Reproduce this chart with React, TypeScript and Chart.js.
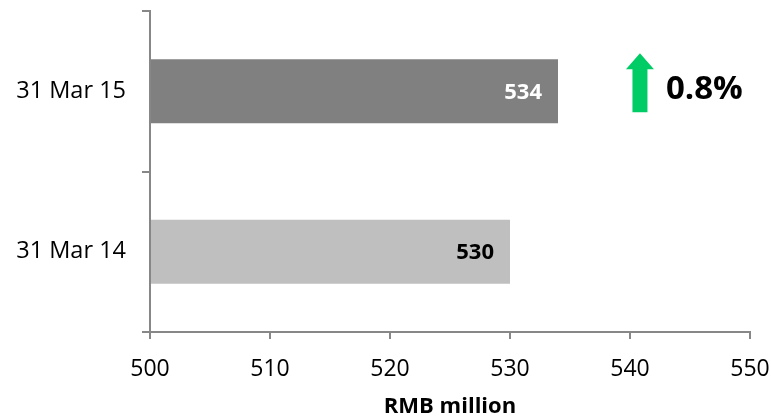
import React, { useEffect, useRef } from "react";
import { Chart, registerables } from "chart.js";

Chart.register(...registerables);

const categories = ["31 Mar 15", "31 Mar 14"];
const values = [534, 530];
const barColors = ["#808080", "#BFBFBF"];
const labelColors = ["#FFFFFF", "#000000"];
const xTicks = [500, 510, 520, 530, 540, 550];
const changeText = "0.8%";
const axisTitle = "RMB million";

const FONT = "'Open Sans', Lato, sans-serif";

const labelPlugin = {
  id: "valueLabels",
  afterDatasetsDraw(chart: any) {
    const ctx = chart.ctx;
    const meta = chart.getDatasetMeta(0);
    ctx.save();
    ctx.font = `bold 22px ${FONT}`;
    ctx.textAlign = "right";
    ctx.textBaseline = "middle";
    meta.data.forEach((bar: any, i: number) => {
      ctx.fillStyle = labelColors[i];
      ctx.fillText(String(values[i]), bar.x - 16, bar.y + 1);
    });
    ctx.restore();
  },
};

const arrowPlugin = {
  id: "changeArrow",
  afterDraw(chart: any) {
    const ctx = chart.ctx;
    const x = chart.scales.x;
    const meta = chart.getDatasetMeta(0);
    const bar = meta.data[0];
    const cx = x.getPixelForValue(540.83);
    const top = bar.y - 38;
    const bottom = bar.y + 21;
    ctx.save();
    ctx.fillStyle = "#00CC66";
    ctx.beginPath();
    ctx.moveTo(cx, top);
    ctx.lineTo(cx + 14, top + 16);
    ctx.lineTo(cx + 7.5, top + 16);
    ctx.lineTo(cx + 7.5, bottom);
    ctx.lineTo(cx - 7.5, bottom);
    ctx.lineTo(cx - 7.5, top + 16);
    ctx.lineTo(cx - 14, top + 16);
    ctx.closePath();
    ctx.fill();
    ctx.fillStyle = "#000000";
    ctx.font = `bold 33px ${FONT}`;
    ctx.textAlign = "left";
    ctx.textBaseline = "middle";
    ctx.fillText(changeText, cx + 26, bar.y - 2);
    ctx.restore();
  },
};

export default function App() {
  const ref = useRef<HTMLCanvasElement>(null);
  useEffect(() => {
    document.body.style.margin = "0";
    const chart = new Chart(ref.current!, {
      type: "bar",
      data: {
        labels: categories,
        datasets: [
          {
            data: values,
            backgroundColor: barColors,
            categoryPercentage: 0.4,
            barPercentage: 1,
            borderWidth: 0,
            base: 500,
          },
        ],
      },
      options: {
        indexAxis: "y",
        animation: false,
        responsive: false,
        maintainAspectRatio: false,
        layout: { padding: { top: 11, right: 21, left: 0, bottom: 0 } },
        plugins: { legend: { display: false }, tooltip: { enabled: false } },
        scales: {
          x: {
            min: 500,
            max: 550,
            afterBuildTicks(scale: any) {
              scale.ticks = xTicks.map((v) => ({ value: v }));
            },
            afterFit(scale: any) {
              scale.height = 86;
              scale.paddingLeft = 0;
              scale.paddingRight = 0;
            },
            border: { display: true, color: "#878787", width: 2 },
            grid: {
              drawOnChartArea: false,
              drawTicks: true,
              tickLength: 7,
              color: "#878787",
              lineWidth: 2,
            },
            ticks: {
              color: "#000000",
              font: { family: FONT, size: 23 },
              padding: 17,
            },
            title: {
              display: true,
              text: axisTitle,
              color: "#000000",
              font: { family: FONT, size: 22, weight: "bold", lineHeight: 1 },
              padding: { top: 0, bottom: 0 },
            },
          },
          y: {
            afterFit(scale: any) {
              scale.width = 150;
              scale.paddingTop = 0;
              scale.paddingBottom = 0;
            },
            border: { display: true, color: "#878787", width: 2 },
            grid: {
              drawOnChartArea: false,
              drawTicks: true,
              tickLength: 8,
              color: "#878787",
              lineWidth: 2,
              offset: true,
            },
            ticks: {
              color: "#000000",
              font: { family: FONT, size: 23.5 },
              padding: 16,
            },
          },
        },
      },
      plugins: [labelPlugin, arrowPlugin],
    });
    return () => chart.destroy();
  }, []);
  return (
    <div style={{ width: 771, height: 418 }}>
      <canvas ref={ref} width={771} height={418} style={{ display: "block" }} />
    </div>
  );
}
